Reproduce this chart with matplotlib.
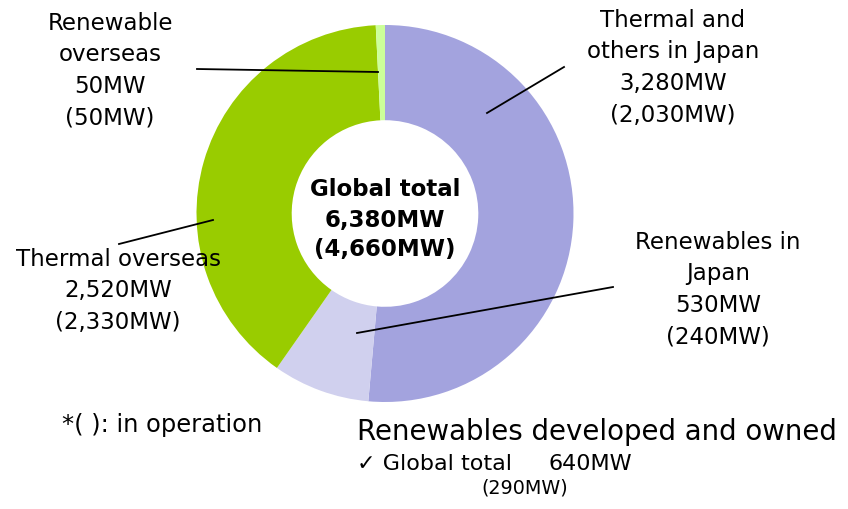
import matplotlib
matplotlib.use("Agg")
import matplotlib.pyplot as plt

# ---- data ----
categories = ["Thermal and\nothers in Japan", "Renewables in\nJapan", "Thermal overseas", "Renewable\noverseas"]
capacity_mw = [3280, 530, 2520, 50]
in_operation_mw = [2030, 240, 2330, 50]
global_total_mw = 6380
global_in_operation_mw = 4660
renewables_total_mw = 640
renewables_in_operation_mw = 290

colors = ["#A3A3DE", "#D0D0EE", "#99CC00", "#CCFF99"]

W, H = 848, 509
fig = plt.figure(figsize=(W / 100, H / 100), dpi=100)
ax = fig.add_axes([0, 0, 1, 1])

def py(y):
    return H - y

cx, cy, R = 385, 213.5, 188.5
ax.pie(capacity_mw, colors=colors, startangle=90, counterclock=False,
       center=(cx, py(cy)), radius=R,
       wedgeprops=dict(width=R * 0.505, linewidth=0))
ax.set_xlim(0, W)
ax.set_ylim(0, H)
ax.set_aspect("equal")
ax.axis("off")

fs = 16.5
def fmt(v):
    return f"{v:,}MW"

# label blocks: (index, x-center, y of first line, line step)
label_pos = [(0, 673, 20, 31.7), (1, 718, 242, 31.5), (2, 118, 260, 31), (3, 110, 23, 31.5)]
for i, x, y, step in label_pos:
    lines = categories[i].split("\n") + [fmt(capacity_mw[i]), "(" + fmt(in_operation_mw[i]) + ")"]
    for k, line in enumerate(lines):
        ax.text(x, py(y + k * step), line, ha="center", va="center", fontsize=fs, color="black")

# leader lines (text end -> wedge end)
leaders = [((564, 67), (487, 113)),
           ((613, 287), (357, 333)),
           ((119, 244), (213, 220)),
           ((197, 69), (378, 72))]
for (x1, y1), (x2, y2) in leaders:
    ax.plot([x1, x2], [py(y1), py(y2)], color="black", lw=1.3)

# center text
center_lines = ["Global total", fmt(global_total_mw), f"({fmt(global_in_operation_mw)})"]
for k, (line, y) in enumerate(zip(center_lines, [189, 220, 249])):
    ax.text(cx, py(y), line, ha="center", va="center", fontsize=16.5, fontweight="bold")

ax.text(62, py(425), "*( ): in operation", ha="left", va="center", fontsize=17.4)
ax.text(357, py(432), "Renewables developed and owned", ha="left", va="center", fontsize=19.9)
ax.text(357, py(464), "\u2713 Global total", ha="left", va="center", fontsize=16)
ax.text(548, py(464), fmt(renewables_total_mw), ha="left", va="center", fontsize=16)
ax.text(481, py(488), f"({fmt(renewables_in_operation_mw)})", ha="left", va="center", fontsize=13.8)

fig.savefig("out.png", dpi=100)
